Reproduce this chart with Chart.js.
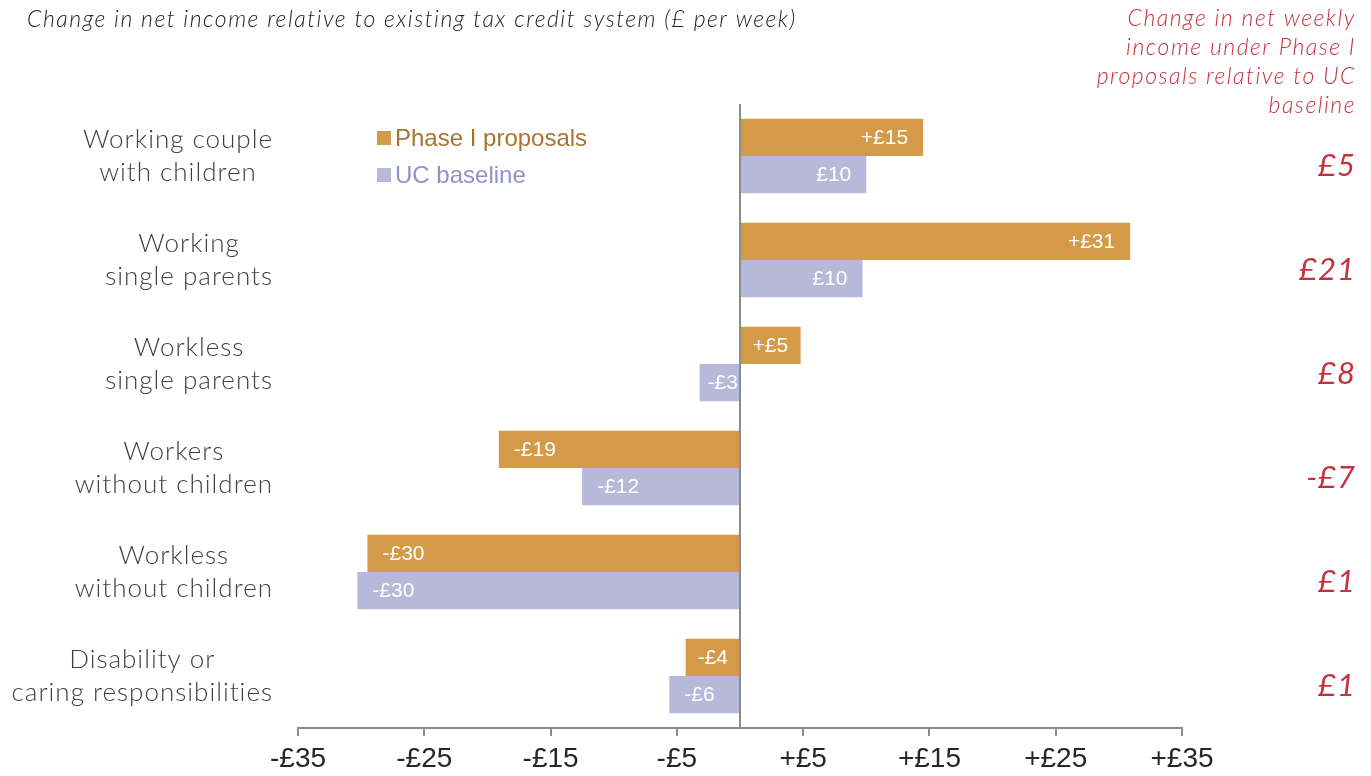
<!DOCTYPE html>
<html>
<head>
<meta charset="utf-8">
<script src="https://cdn.jsdelivr.net/npm/chart.js@4.4.1/dist/chart.umd.min.js"></script>
<style>
  html, body { margin: 0; padding: 0; background: #fff; }
  #wrap { width: 1371px; height: 776px; position: relative; }
</style>
</head>
<body>
<div id="wrap"><canvas id="ucChart" width="1371" height="776"></canvas></div>
<script>
// categories (two-line labels)
var categories = [
    ['Working couple', 'with children'],
    ['Working', 'single parents'],
    ['Workless', 'single parents'],
    ['Workers', 'without children'],
    ['Workless', 'without children'],
    ['Disability or', 'caring responsibilities']
];
// bar values (£ per week)
var phaseValues = [14.5, 30.9, 4.8, -19.1, -29.5, -4.3];
var ucValues = [10.0, 9.7, -3.2, -12.5, -30.3, -5.6];
// labels printed on the bars
var phaseLabels = ['+£15', '+£31', '+£5', '-£19', '-£30', '-£4'];
var ucLabels = ['£10', '£10', '-£3', '-£12', '-£30', '-£6'];
// right-hand column: Phase I vs UC baseline
var diffLabels = ['£5', '£21', '£8', '-£7', '£1', '£1'];
var tickValues = [-35, -25, -15, -5, 5, 15, 25, 35];

var phaseColor = '#d49a48';
var ucColor = '#b7b9da';
var redColor = '#c4323d';

var thinFont = '"Lato", "Open Sans", sans-serif';
var arialFont = '"Liberation Sans", Arial, sans-serif';

var extrasPlugin = {
    id: 'extras',
    afterDatasetsDraw: function(chart) {
        var ctx = chart.ctx;
        var x = chart.scales.x;
        var y = chart.scales.y;
        var zx = Math.round(x.getPixelForValue(0));
        ctx.save();

        // zero line
        ctx.strokeStyle = '#8c8c8c';
        ctx.lineWidth = 2;
        ctx.beginPath();
        ctx.moveTo(zx, chart.chartArea.top);
        ctx.lineTo(zx, chart.chartArea.bottom);
        ctx.stroke();

        // bar labels
        ctx.font = '21px ' + arialFont;
        ctx.fillStyle = '#ffffff';
        ctx.textBaseline = 'middle';
        var allLabels = [phaseLabels, ucLabels];
        chart.data.datasets.forEach(function(ds, di) {
            var meta = chart.getDatasetMeta(di);
            meta.data.forEach(function(el, i) {
                var txt = allLabels[di][i];
                var w = ctx.measureText(txt).width;
                var barW = Math.abs(el.x - el.base);
                var pad = Math.max(Math.min(15, (barW - w) / 2), 8);
                if (ds.data[i] >= 0) {
                    ctx.textAlign = 'right';
                    ctx.fillText(txt, el.x - pad, el.y + 1);
                } else {
                    ctx.textAlign = 'left';
                    ctx.fillText(txt, el.x + pad, el.y + 1);
                }
            });
        });

        // category labels, block right aligned, lines centred
        ctx.font = '300 26px ' + thinFont;
        ctx.letterSpacing = '1px';
        ctx.fillStyle = '#404040';
        ctx.textAlign = 'center';
        categories.forEach(function(lines, i) {
            var cy = y.getPixelForValue(i);
            var bw = 0;
            lines.forEach(function(l) { bw = Math.max(bw, ctx.measureText(l).width); });
            var cx = 273 - bw / 2;
            lines.forEach(function(l, j) {
                ctx.fillText(l, cx, cy + (j - (lines.length - 1) / 2) * 33);
            });
        });
        ctx.letterSpacing = '0px';

        // legend
        var legend = [['Phase I proposals', phaseColor, '#a8732e'], ['UC baseline', ucColor, '#8e93c8']];
        ctx.font = '24px ' + arialFont;
        ctx.textAlign = 'left';
        legend.forEach(function(item, k) {
            var ly = 138 + k * 37;
            ctx.fillStyle = item[1];
            ctx.fillRect(377, ly - 7, 14, 14);
            ctx.fillStyle = item[2];
            ctx.fillText(item[0], 395, ly + 1);
        });

        // title
        ctx.font = 'italic 300 23px ' + thinFont;
        ctx.letterSpacing = '1.5px';
        ctx.fillStyle = '#222222';
        ctx.textAlign = 'left';
        ctx.fillText('Change in net income relative to existing tax credit system (£ per week)', 27, 20, 778);

        // right column header
        ctx.fillStyle = redColor;
        ctx.textAlign = 'right';
        ['Change in net weekly', 'income under Phase I', 'proposals relative to UC', 'baseline'].forEach(function(l, j) {
            ctx.fillText(l, 1356, 19 + j * 29);
        });

        // right column values
        ctx.font = 'italic 400 31px ' + thinFont;
        ctx.letterSpacing = '1px';
        diffLabels.forEach(function(t, i) {
            ctx.fillText(t, 1356, y.getPixelForValue(i) + 10);
        });
        ctx.restore();
    }
};

var chart = new Chart(document.getElementById('ucChart'), {
    type: 'bar',
    data: {
        labels: categories,
        datasets: [{
            label: 'Phase I proposals',
            data: phaseValues,
            backgroundColor: phaseColor,
            barPercentage: 1,
            categoryPercentage: 0.718
        }, {
            label: 'UC baseline',
            data: ucValues,
            backgroundColor: ucColor,
            barPercentage: 1,
            categoryPercentage: 0.718
        }]
    },
    plugins: [extrasPlugin],
    options: {
        indexAxis: 'y',
        responsive: false,
        animation: false,
        layout: {
            padding: { left: 298, right: 189, top: 104, bottom: 0 }
        },
        plugins: {
            legend: { display: false },
            tooltip: { enabled: false }
        },
        scales: {
            x: {
                min: -35,
                max: 35,
                afterBuildTicks: function(scale) {
                    scale.ticks = tickValues.map(function(v) { return { value: v }; });
                },
                afterFit: function(scale) { scale.height = 48; },
                border: { display: true, color: '#8c8c8c', width: 2 },
                grid: {
                    drawOnChartArea: false,
                    drawTicks: true,
                    tickLength: 8,
                    color: '#8c8c8c',
                    lineWidth: 2
                },
                ticks: {
                    padding: 6,
                    color: '#262626',
                    font: { family: arialFont, size: 28 },
                    maxRotation: 0,
                    autoSkip: false,
                    callback: function(v) {
                        return v < 0 ? '-£' + Math.abs(v) : '+£' + v;
                    }
                }
            },
            y: {
                display: false
            }
        }
    }
});
</script>
</body>
</html>
